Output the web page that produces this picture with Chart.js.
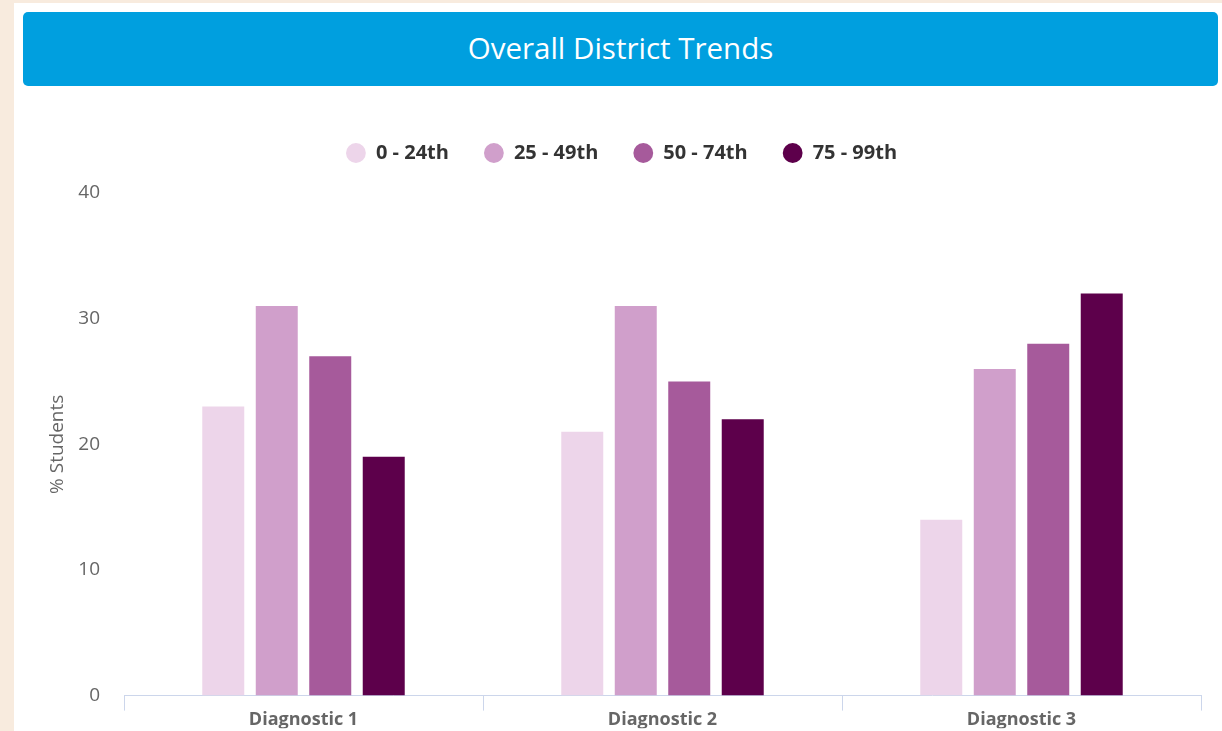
<!DOCTYPE html>
<html>
<head>
<meta charset="utf-8">
<script src="https://cdn.jsdelivr.net/npm/chart.js@4"></script>
<style>
  body { margin: 0; width: 1222px; height: 731px; background: #f8ebde; overflow: hidden; font-family: "Open Sans", sans-serif; }
  .panel { position: absolute; left: 14px; top: 3px; width: 1208px; height: 728px; background: #fff; }
  .header { position: absolute; left: 23px; top: 12px; width: 1195px; height: 74px; background: #009fdf; border-radius: 5px;
            color: #fff; font-size: 29.5px; text-align: center; line-height: 72px; }
  .box { position: absolute; left: 0; top: 108px; width: 1222px; height: 623px; }
</style>
</head>
<body>
<div class="panel"></div>
<div class="header">Overall District Trends</div>
<div class="box"><canvas id="chart"></canvas></div>
<script>
const categories = ['Diagnostic 1', 'Diagnostic 2', 'Diagnostic 3'];
const seriesNames = ['0 - 24th', '25 - 49th', '50 - 74th', '75 - 99th'];
const p0_24 = [23, 21, 14];
const p25_49 = [31, 31, 26];
const p50_74 = [27, 25, 28];
const p75_99 = [19, 22, 32];
const colors = ['#edd5ea', '#d09fcb', '#a65a9b', '#5d004b'];
const yTicks = [0, 10, 20, 30, 40];

const ctx = document.getElementById('chart');
new Chart(ctx, {
  type: 'bar',
  data: {
    labels: categories,
    datasets: [p0_24, p25_49, p50_74, p75_99].map((d, i) => ({
      label: seriesNames[i],
      data: d,
      backgroundColor: colors[i],
      categoryPercentage: 0.596,
      barPercentage: 0.785
    }))
  },
  options: {
    responsive: true,
    maintainAspectRatio: false,
    animation: false,
    layout: { padding: { left: 42, right: 21, bottom: 0 } },
    plugins: {
      tooltip: { enabled: false },
      legend: {
        position: 'top',
        labels: {
          usePointStyle: true,
          pointStyle: 'circle',
          boxHeight: 14,
          padding: 35,
          color: '#333',
          font: { family: 'Open Sans', size: 20, weight: 'bold' }
        }
      },
      // empty spacer between legend and plot
      subtitle: {
        display: true, text: '', weight: 500,
        padding: 0, font: { size: 10, lineHeight: 2 }
      }
    },
    scales: {
      x: {
        grid: { drawOnChartArea: false, color: '#ccd6eb', tickLength: 15, offset: true },
        border: { color: '#ccd6eb' },
        ticks: { color: '#666', padding: -2, font: { family: 'Open Sans', size: 18, weight: 'bold' } }
      },
      y: {
        min: 0, max: 40,
        afterBuildTicks: s => { s.ticks = yTicks.map(v => ({ value: v })); },
        afterFit: s => { s.width = 82; },
        grid: { display: false, drawTicks: false },
        border: { display: false },
        ticks: { color: '#666', padding: 24, font: { family: 'Open Sans', size: 19 } },
        title: { display: true, text: '% Students', color: '#666', padding: { top: 4, bottom: 4 },
                 font: { family: 'Open Sans', size: 19 } }
      }
    }
  }
});
</script>
</body>
</html>
